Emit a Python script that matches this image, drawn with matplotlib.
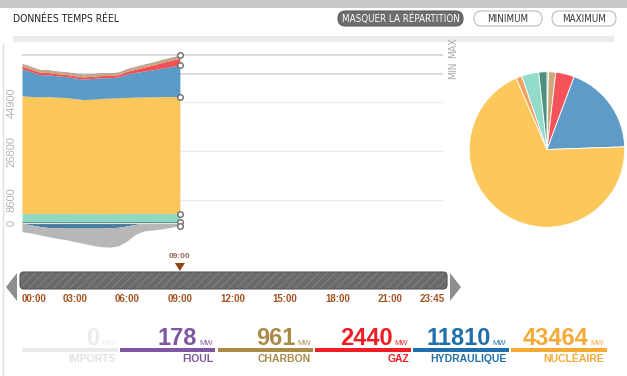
import numpy as np
import matplotlib
matplotlib.use('Agg')
import matplotlib.pyplot as plt
from matplotlib import font_manager
from matplotlib.patches import FancyBboxPatch, Polygon, Rectangle

# half-hour steps from 00:00 up to the current time (09:00)
hours = [0, 0.5, 1, 1.5, 2, 2.5, 3, 3.5, 4, 4.5, 5, 5.5, 6, 6.5, 7, 7.5, 8, 8.5, 9]

# production stack in MW, bottom to top
autres = [620, 610, 600, 600, 590, 590, 590, 600, 600, 600, 600, 610, 610, 620, 620, 620, 610, 610, 600]
eolien = [2950, 2980, 3000, 2990, 3010, 3000, 2980, 2970, 2960, 2950, 2960, 2980, 3000, 3020, 3010, 3000, 2990, 3000, 3000]
nucleaire = [43760, 43500, 43300, 43450, 43200, 43100, 42700, 42350, 42500, 42800,
             42900, 43000, 43100, 43200, 43300, 43300, 43450, 43400, 43464]
hydraulique = [10000, 9200, 8300, 8100, 7900, 7800, 7700, 7600, 7700, 7700,
               7600, 7700, 8800, 9200, 9650, 10100, 10600, 11200, 11810]
gaz = [1000, 950, 900, 850, 820, 800, 800, 800, 800, 800, 820, 850, 950, 1200, 1500, 1800, 2100, 2300, 2440]
charbon = [900, 880, 870, 860, 850, 850, 850, 850, 850, 850, 850, 860, 870, 900, 920, 940, 950, 955, 961]
fioul = [150, 150, 150, 150, 150, 150, 150, 150, 150, 150, 150, 155, 160, 165, 170, 172, 175, 176, 178]

# below zero: pumping and exports (MW)
pompage = [100, 600, 1200, 1600, 1700, 1800, 1800, 1800, 1800, 1800, 1700, 1500, 1000, 400, 0, 0, 0, 0, 0]
exports = [3060, 3000, 3100, 3400, 3900, 4300, 5000, 5700, 6400, 6900, 7200, 6900, 5500, 3600, 2800, 2500, 2100, 1500, 900]

# breakdown at 09:00 for the pie
pie_labels = ['Fioul', 'Charbon', 'Gaz', 'Hydraulique', 'Nucléaire', 'Solaire', 'Éolien', 'Autres']
pie_values = [178, 961, 2440, 11810, 43464, 770, 2250, 1070]
pie_colors = ['#9a7ab8', '#c9aa78', '#f5525a', '#5e9bc7', '#fcc85c', '#f6a25c', '#93dbca', '#4e8f7d']

legend_labels = ['IMPORTS', 'FIOUL', 'CHARBON', 'GAZ', 'HYDRAULIQUE', 'NUCLÉAIRE']
legend_values = [0, 178, 961, 2440, 11810, 43464]
legend_colors = ['#ebebeb', '#7f56a1', '#a98b47', '#f01d25', '#1f6fac', '#f6a935']

yticks = [0, 8600, 26800, 44900]
time_ticks = [0, 3, 6, 9, 12, 15, 18, 21, 23.75]
time_labels = ['00:00', '03:00', '06:00', '09:00', '12:00', '15:00', '18:00', '21:00', '23:45']
now = 9

# a condensed face for the small interface text, if there is one
condensed = [f for f in font_manager.fontManager.ttflist
             if f.name == 'DejaVu Sans' and f.stretch == 'condensed' and f.weight in (400, 'normal')]
if condensed:
    ui_font = dict(family='DejaVu Sans', fontstretch='condensed')
    ui_size = 7
else:
    ui_font = dict(family='Liberation Sans')
    ui_size = 6.3

plt.rcParams['font.family'] = ['Liberation Sans', 'DejaVu Sans']
plt.rcParams['hatch.linewidth'] = 1.0

fig = plt.figure(figsize=(6.27, 3.76), dpi=100)

# overlay in pixel units for the page furniture
ov = fig.add_axes([0, 0, 1, 1])
ov.set_xlim(0, 627)
ov.set_ylim(376, 0)
ov.axis('off')

ov.add_patch(Rectangle((0, 0), 627, 8, color='#c9c9c9', lw=0))
ov.plot([3, 3], [44, 376], color='#e0e0e0', lw=1)
ov.add_patch(Rectangle((13, 36), 601, 6, color='#ececec', lw=0))
ov.text(13, 18.5, 'DONNÉES TEMPS RÉEL', fontsize=ui_size + 0.5, color='#222222', va='center', **ui_font)


def button(x0, x1, label, dark):
    fc = '#6e6e6e' if dark else 'white'
    ec = '#5a5a5a' if dark else '#bdbdbd'
    ov.add_patch(FancyBboxPatch((x0, 11), x1 - x0, 15, boxstyle='round,pad=0,rounding_size=7.5',
                                fc=fc, ec=ec, lw=0.8))
    ov.text((x0 + x1) / 2, 18.5, label, fontsize=ui_size,
            color='white' if dark else '#333333', ha='center', va='center', **ui_font)


button(338, 463, 'MASQUER LA RÉPARTITION', True)
button(474, 542, 'MINIMUM', False)
button(552, 616, 'MAXIMUM', False)

# main stacked area chart
ax = fig.add_axes([22 / 627, (376 - 250) / 376, 421 / 627, 205 / 376])
ax.set_facecolor('none')
for s in ax.spines.values():
    s.set_visible(False)
ax.set_xlim(0, 24)
ax.set_ylim(-9956, 66200)

layers = [autres, eolien, nucleaire, hydraulique, gaz, charbon, fioul]
layer_colors = ['#4b8a78', '#8fd8c8', '#fbc75a', '#5b9bc8', '#f5505a', '#c8a878', '#8a6aa8']
x = np.array(hours)
base = np.zeros(len(hours))
tops = []
for vals, col in zip(layers, layer_colors):
    top = base + np.array(vals)
    ax.fill_between(x, base, top, color=col, lw=0, zorder=2)
    tops.append(top)
    base = top
total = base

neg1 = -np.array(pompage)
neg2 = neg1 - np.array(exports)
ax.fill_between(x, 0, neg1, color='#4a7ca2', lw=0, zorder=2)
ax.fill_between(x, neg1, neg2, color='#b7b7b7', lw=0, zorder=2)
ax.hlines(0, 0, now, color='#e4e4e4', lw=0.8, zorder=3)

for v in yticks[1:]:
    ax.axhline(v, color='#ebebeb', lw=0.9, zorder=0)
ax.axhline(total.max(), color='#d4d4d4', lw=1.2, zorder=0)
ax.axhline(total.min(), color='#d4d4d4', lw=1.2, zorder=0)

ax.set_xticks([])
ax.set_yticks(yticks)
ax.set_yticklabels([str(v) for v in yticks], rotation=90, va='center', color='#b3b3b3', fontsize=8)
ax.tick_params(axis='y', length=0, pad=4)

# MAX and MIN labels sit end to end beside their lines, reading as "MINMAX"
ax.annotate('MAX', xy=(1, total.max()), xycoords=('axes fraction', 'data'), xytext=(7.5, -2.2),
            textcoords='offset points', rotation=90, ha='center', va='bottom',
            fontsize=ui_size + 0.5, color='#aaaaaa', **ui_font)
ax.annotate('MIN', xy=(1, total.min()), xycoords=('axes fraction', 'data'), xytext=(7.5, -3.4),
            textcoords='offset points', rotation=90, ha='center', va='bottom',
            fontsize=ui_size + 0.5, color='#aaaaaa', **ui_font)

# end-of-series handles
ends = [total[-1], tops[3][-1], tops[2][-1], tops[1][-1], tops[0][-1], neg2[-1]]
ax.plot([now] * len(ends), ends, 'o', ms=4, mfc='white', mec='#6a6a6a', mew=1, zorder=5, clip_on=False)

# pie of the current breakdown
pax = fig.add_axes([468.5 / 627, (376 - 228) / 376, 157 / 627, 157 / 376])
pax.pie(pie_values, colors=pie_colors, startangle=90, counterclock=False,
        wedgeprops=dict(edgecolor='white', linewidth=0.6))
pax.set_xlim(-1.01, 1.01)
pax.set_ylim(-1.01, 1.01)


# timeline
def hx(h):
    return 22 + h * 421 / 24


ov.add_patch(FancyBboxPatch((20, 272), 427, 17, boxstyle='round,pad=0,rounding_size=4',
                            fc='#6a6a6a', ec='#7c7c7c', hatch='////', lw=0))
ov.add_patch(FancyBboxPatch((20, 272), 427, 17, boxstyle='round,pad=0,rounding_size=4',
                            fc='none', ec='#575757', lw=0.8))
ov.add_patch(Polygon([(6, 287), (17, 273), (17, 301)], fc='#8d8d8d', ec='none'))
ov.add_patch(Polygon([(461, 287), (450, 273), (450, 301)], fc='#8d8d8d', ec='none'))

ov.add_patch(Polygon([(hx(now) - 5, 263), (hx(now) + 5, 263), (hx(now), 271)], fc='#93440f', ec='none'))
ov.text(hx(now), 257, '09:00', ha='center', va='center', fontsize=6, fontweight='bold', color='#946656')

for h, lab in zip(time_ticks, time_labels):
    if h == 0:
        ov.text(hx(h), 298.5, lab, ha='left', va='center', fontsize=7, fontweight='bold', color='#a3531f')
    elif h == time_ticks[-1]:
        ov.text(hx(24) + 2, 298.5, lab, ha='right', va='center', fontsize=7, fontweight='bold', color='#a3531f')
    else:
        ov.text(hx(h), 298.5, lab, ha='center', va='center', fontsize=7, fontweight='bold', color='#a3531f')

# legend strip at the bottom
for i, (lab, val, col) in enumerate(zip(legend_labels, legend_values, legend_colors)):
    x0 = 22 + i * 97.8
    x1 = x0 + 95.5
    ov.add_patch(Rectangle((x0, 348), x1 - x0, 4, color=col, lw=0))
    ov.text(x1 - 18, 345, str(val), ha='right', va='baseline', fontsize=17, fontweight='bold', color=col)
    ov.text(x1 - 2.5, 345, 'MW', ha='right', va='baseline', fontsize=5.5, color=col)
    ov.text(x1 - 2, 359.5, lab, ha='right', va='center', fontsize=7.5, fontweight='bold',
            color='#e2e2e2' if i == 0 else col)

plt.savefig('out.png', dpi=100)
